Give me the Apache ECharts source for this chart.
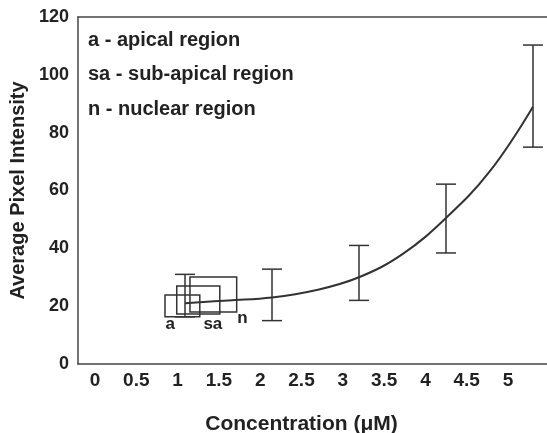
<!DOCTYPE html>
<html>
<head>
<meta charset="utf-8">
<script src="https://cdn.jsdelivr.net/npm/echarts@6/dist/echarts.min.js"></script>
<style>
  html, body { margin: 0; padding: 0; background: #fff; }
  #chart { width: 547px; height: 433px; }
</style>
</head>
<body>
<div id="chart"></div>
<script>
// fitted curve
const curveX = [1, 1.5, 2, 2.5, 3, 3.5, 4, 4.5, 5];
const curveY = [21, 22, 23, 25.5, 30, 38, 50.5, 66.5, 89];

// error bars
const errX = [1, 2, 3, 4, 5];
const errLow = [16.3, 15, 22, 38.4, 75];
const errHigh = [31, 32.8, 41, 62.2, 110.3];

// region boxes at 1 uM
const boxNames = ['a', 'sa', 'n'];
const boxX0 = [0.77, 0.905, 1.057];
const boxX1 = [1.17, 1.40, 1.594];
const boxY0 = [16.3, 17.3, 18];
const boxY1 = [23.9, 27, 30.1];
const boxLabelX = [0.83, 1.32, 1.66];
const boxLabelY = [13.8, 13.8, 15.8];

const xTickValues = [0, 0.5, 1, 1.5, 2, 2.5, 3, 3.5, 4, 4.5, 5];
const xTickLabels = ['0', '0.5', '1', '1.5', '2', '2.5', '3', '3.5', '4', '4.5', '5'];

const legendLines = ['a - apical region', 'sa - sub-apical region', 'n - nuclear region'];

const ink = '#222';
const font = 'Liberation Sans';

const chart = echarts.init(document.getElementById('chart'));

chart.setOption({
  animation: false,
  backgroundColor: '#fff',
  grid: { left: 78, right: 0, top: 17, bottom: 69, outerBoundsMode: 'none' },
  xAxis: [
    {
      // data axis, drawn as the top frame line
      type: 'value', position: 'top',
      min: -0.23, max: 5.161,
      axisLine: { show: true, onZero: false, lineStyle: { color: '#444', width: 1.5 } },
      axisTick: { show: false }, axisLabel: { show: false }, splitLine: { show: false }
    },
    {
      type: 'value', position: 'bottom',
      min: -0.206, max: 5.472,
      axisLine: { show: true, onZero: false, lineStyle: { color: '#444', width: 1.5 } },
      axisTick: { show: false },
      splitLine: { show: false },
      axisLabel: {
        customValues: xTickValues,
        formatter: v => xTickLabels[xTickValues.indexOf(v)],
        margin: 7, color: ink, fontSize: 19, fontWeight: 'bold', fontFamily: font
      },
      name: 'Concentration (\u03bcM)',
      nameLocation: 'middle', nameGap: 50,
      nameTextStyle: { color: ink, fontSize: 21, fontWeight: 'bold', fontFamily: font, padding: [0, 22, 0, 0] }
    }
  ],
  yAxis: {
    type: 'value', min: 0, max: 120, interval: 20,
    axisLine: { show: true, onZero: false, lineStyle: { color: '#444', width: 1.5 } },
    axisTick: { show: false },
    splitLine: { show: false },
    axisLabel: { margin: 9, color: ink, fontSize: 18, fontWeight: 'bold', fontFamily: font },
    name: 'Average Pixel Intensity',
    nameLocation: 'middle', nameGap: 45,
    nameTextStyle: { color: ink, fontSize: 20, fontWeight: 'bold', fontFamily: font }
  },
  graphic: legendLines.map((t, i) => ({
    type: 'text', left: 88, top: 30 + i * 34.5,
    style: { text: t, fill: ink, font: 'bold 20px "Liberation Sans"' }
  })),
  series: [
    {
      type: 'line', xAxisIndex: 0, smooth: 0.4, symbol: 'none',
      data: curveX.map((x, i) => [x, curveY[i]]),
      lineStyle: { color: '#333', width: 2 }
    },
    {
      type: 'custom', xAxisIndex: 0,
      data: errX.map((x, i) => [x, errLow[i], errHigh[i]]),
      renderItem: (params, api) => {
        const lo = api.coord([api.value(0), api.value(1)]);
        const hi = api.coord([api.value(0), api.value(2)]);
        const hw = 10;
        const st = { stroke: '#333', lineWidth: 1.5 };
        return {
          type: 'group', children: [
            { type: 'line', shape: { x1: lo[0], y1: lo[1], x2: hi[0], y2: hi[1] }, style: st },
            { type: 'line', shape: { x1: lo[0] - hw, y1: lo[1], x2: lo[0] + hw, y2: lo[1] }, style: st },
            { type: 'line', shape: { x1: hi[0] - hw, y1: hi[1], x2: hi[0] + hw, y2: hi[1] }, style: st }
          ]
        };
      }
    },
    {
      type: 'custom', xAxisIndex: 0,
      data: boxNames.map((n, i) => [boxX0[i], boxX1[i], boxY0[i], boxY1[i], boxLabelX[i], boxLabelY[i]]),
      renderItem: (params, api) => {
        const p0 = api.coord([api.value(0), api.value(3)]);
        const p1 = api.coord([api.value(1), api.value(2)]);
        const lp = api.coord([api.value(4), api.value(5)]);
        return {
          type: 'group', children: [
            { type: 'rect', shape: { x: p0[0], y: p0[1], width: p1[0] - p0[0], height: p1[1] - p0[1] },
              style: { fill: 'none', stroke: '#333', lineWidth: 1.5 } },
            { type: 'text', x: lp[0], y: lp[1],
              style: { text: boxNames[params.dataIndex], fill: ink, font: 'bold 17px "Liberation Sans"',
                       align: 'center', verticalAlign: 'middle' } }
          ]
        };
      }
    }
  ]
});
</script>
</body>
</html>
